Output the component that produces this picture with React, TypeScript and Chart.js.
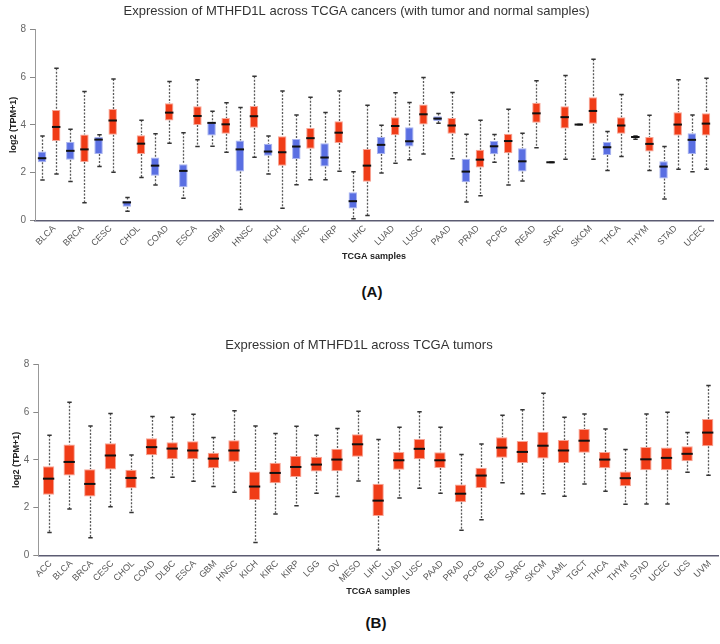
import React, { useEffect, useRef } from "react";
import { Chart, registerables } from "chart.js";

Chart.register(...registerables);

// ---------- DATA ----------
// each entry: [min, q1, median, q3, max] of log2(TPM+1)
const cancersA = [
  "BLCA", "BRCA", "CESC", "CHOL", "COAD", "ESCA", "GBM", "HNSC", "KICH", "KIRC", "KIRP", "LIHC",
  "LUAD", "LUSC", "PAAD", "PRAD", "PCPG", "READ", "SARC", "SKCM", "THCA", "THYM", "STAD", "UCEC",
];

const normalA = [
  [1.69, 2.43, 2.6, 2.88, 3.53],
  [1.62, 2.54, 2.91, 3.28, 3.81],
  [2.25, 2.78, 3.38, 3.49, 3.58],
  [0.38, 0.57, 0.75, 0.82, 0.96],
  [1.48, 1.87, 2.29, 2.63, 3.62],
  [0.92, 1.38, 2.07, 2.35, 3.67],
  [3.1, 3.55, 4.08, 4.1, 4.57],
  [0.45, 2.04, 2.97, 3.34, 4.72],
  [1.94, 2.7, 2.88, 3.21, 3.53],
  [1.49, 2.57, 3.09, 3.41, 4.41],
  [1.7, 2.25, 2.63, 3.23, 4.51],
  [0.06, 0.49, 0.8, 1.17, 2.03],
  [1.98, 2.78, 3.16, 3.49, 3.98],
  [2.54, 3.09, 3.31, 3.9, 4.93],
  [4.06, 4.16, 4.26, 4.36, 4.47],
  [0.77, 1.59, 2.04, 2.58, 3.6],
  [2.43, 2.77, 3.1, 3.32, 3.59],
  [1.65, 2.04, 2.47, 3.02, 3.65],
  [2.42, 2.42, 2.43, 2.44, 2.44],
  [4.0, 4.0, 4.01, 4.02, 4.02],
  [2.09, 2.74, 3.06, 3.28, 3.72],
  [3.39, 3.46, 3.49, 3.52, 3.53],
  [0.89, 1.75, 2.25, 2.47, 3.09],
  [2.03, 2.78, 3.37, 3.65, 4.41],
];

const tumorA = [
  [1.94, 3.32, 3.91, 4.62, 6.37],
  [0.73, 2.44, 2.97, 3.59, 5.4],
  [2.01, 3.58, 4.18, 4.66, 5.92],
  [1.79, 2.78, 3.21, 3.56, 4.19],
  [3.23, 4.18, 4.51, 4.9, 5.81],
  [3.09, 3.99, 4.37, 4.78, 5.89],
  [2.85, 3.62, 4.02, 4.29, 4.92],
  [2.64, 3.88, 4.36, 4.79, 6.03],
  [0.5, 2.29, 2.85, 3.52, 5.42],
  [1.7, 3.0, 3.44, 3.87, 5.15],
  [2.05, 3.24, 3.67, 4.15, 5.42],
  [0.2, 1.61, 2.29, 2.99, 4.82],
  [2.39, 3.56, 3.95, 4.32, 5.34],
  [2.78, 4.01, 4.44, 4.85, 5.98],
  [2.58, 3.63, 3.97, 4.29, 5.35],
  [1.03, 2.21, 2.54, 2.95, 4.19],
  [1.48, 2.81, 3.32, 3.63, 4.65],
  [3.04, 4.09, 4.48, 4.92, 5.85],
  [2.56, 3.85, 4.32, 4.78, 6.06],
  [2.56, 4.04, 4.58, 5.15, 6.75],
  [2.67, 3.62, 3.97, 4.32, 5.27],
  [2.09, 2.88, 3.2, 3.49, 4.4],
  [2.14, 3.55, 4.01, 4.53, 5.89],
  [2.14, 3.55, 4.05, 4.48, 5.95],
];

const cancersB = [
  "ACC", "BLCA", "BRCA", "CESC", "CHOL", "COAD", "DLBC", "ESCA", "GBM", "HNSC", "KICH", "KIRC",
  "KIRP", "LGG", "OV", "MESO", "LIHC", "LUAD", "LUSC", "PAAD", "PRAD", "PCPG", "READ", "SARC",
  "SKCM", "LAML", "TGCT", "THCA", "THYM", "STAD", "UCEC", "UCS", "UVM",
];

const tumorB = [
  [0.96, 2.54, 3.21, 3.73, 5.03],
  [1.94, 3.34, 3.91, 4.64, 6.41],
  [0.74, 2.46, 2.99, 3.6, 5.42],
  [2.03, 3.59, 4.18, 4.69, 5.94],
  [1.79, 2.81, 3.24, 3.58, 4.2],
  [3.25, 4.19, 4.53, 4.9, 5.81],
  [3.27, 4.02, 4.47, 4.73, 5.78],
  [3.1, 4.02, 4.39, 4.78, 5.91],
  [2.88, 3.65, 4.05, 4.3, 4.93],
  [2.64, 3.92, 4.39, 4.82, 6.05],
  [0.54, 2.32, 2.88, 3.51, 5.42],
  [1.73, 3.02, 3.45, 3.88, 5.1],
  [2.08, 3.28, 3.7, 4.16, 5.41],
  [2.6, 3.51, 3.8, 4.13, 5.03],
  [2.46, 3.52, 4.01, 4.46, 5.31],
  [3.11, 4.13, 4.65, 5.07, 6.03],
  [0.22, 1.65, 2.29, 3.0, 4.85],
  [2.4, 3.58, 3.98, 4.33, 5.36],
  [2.81, 4.02, 4.46, 4.87, 6.01],
  [2.6, 3.66, 3.98, 4.32, 5.36],
  [1.05, 2.22, 2.58, 2.97, 4.22],
  [1.49, 2.82, 3.34, 3.67, 4.66],
  [3.04, 4.09, 4.51, 4.94, 5.87],
  [2.58, 3.87, 4.33, 4.79, 6.1],
  [2.58, 4.05, 4.59, 5.17, 6.79],
  [2.47, 3.87, 4.39, 4.83, 5.78],
  [2.99, 4.3, 4.8, 5.29, 5.92],
  [2.68, 3.65, 4.01, 4.33, 5.29],
  [2.14, 2.89, 3.23, 3.51, 4.43],
  [2.15, 3.56, 4.02, 4.54, 5.92],
  [2.15, 3.56, 4.08, 4.51, 5.99],
  [3.48, 3.94, 4.25, 4.57, 5.14],
  [3.35, 4.57, 5.14, 5.71, 7.11],
];

const yTickValues = [0, 2, 4, 6, 8];

const titleA = "Expression of MTHFD1L across TCGA cancers (with tumor and normal samples)";
const titleB = "Expression of MTHFD1L across TCGA tumors";
const xTitle = "TCGA samples";
const yTitle = "log2 (TPM+1)";

// ---------- STYLE ----------
const RED = "#f03c17";
const RED_BORDER = "#f8a596";
const BLUE = "#5a6fe2";
const BLUE_BORDER = "#a9b4f0";
const FONT = "Arial, 'Liberation Sans', sans-serif";

Chart.defaults.font.family = FONT;

const boxPlugin = {
  id: "boxWhisker",
  beforeDatasetsDraw(chart: any) {
    const ctx = chart.ctx;
    const y = chart.scales.y;
    chart.data.datasets.forEach((ds: any, i: number) => {
      const meta = chart.getDatasetMeta(i);
      meta.data.forEach((bar: any, j: number) => {
        const s = ds.stats[j];
        const x = Math.round(bar.x) + 0.5;
        const yMin = y.getPixelForValue(s[0]);
        const yQ1 = y.getPixelForValue(s[1]);
        const yQ3 = y.getPixelForValue(s[3]);
        const yMax = y.getPixelForValue(s[4]);
        ctx.save();
        ctx.strokeStyle = "#5a5a5a";
        ctx.lineWidth = 1.3;
        ctx.setLineDash([2, 1.5]);
        ctx.beginPath();
        ctx.moveTo(x, yMax);
        ctx.lineTo(x, yQ3);
        ctx.moveTo(x, yQ1);
        ctx.lineTo(x, yMin);
        ctx.stroke();
        ctx.setLineDash([]);
        ctx.strokeStyle = "#333";
        ctx.lineWidth = 1.5;
        ctx.beginPath();
        ctx.moveTo(x - 2.2, yMax);
        ctx.lineTo(x + 2.2, yMax);
        ctx.moveTo(x - 2.2, yMin);
        ctx.lineTo(x + 2.2, yMin);
        ctx.stroke();
        ctx.restore();
      });
    });
  },
  afterDatasetsDraw(chart: any) {
    const ctx = chart.ctx;
    const y = chart.scales.y;
    chart.data.datasets.forEach((ds: any, i: number) => {
      const meta = chart.getDatasetMeta(i);
      meta.data.forEach((bar: any, j: number) => {
        const s = ds.stats[j];
        const yMed = y.getPixelForValue(s[2]);
        const half = bar.width / 2;
        ctx.save();
        ctx.strokeStyle = "#111";
        ctx.lineWidth = 2;
        ctx.beginPath();
        ctx.moveTo(bar.x - half, yMed);
        ctx.lineTo(bar.x + half, yMed);
        ctx.stroke();
        ctx.restore();
      });
    });
  },
};

interface SeriesDef {
  stats: number[][];
  color: string;
  border: string;
}

interface PanelProps {
  title: string;
  labels: string[];
  series: SeriesDef[];
  width: number;
  height: number;
  axisLeft: number;
  padRight: number;
  titlePadTop: number;
  titlePadBottom: number;
  xAxisHeight: number;
  xTitlePadBottom: number;
  yTitlePadTop: number;
  catPct: number;
  barPct: number;
  labelOffset: number;
}

function BoxPanel(p: PanelProps) {
  const ref = useRef<HTMLCanvasElement | null>(null);
  useEffect(() => {
    if (!ref.current) return;
    const chart = new Chart(ref.current, {
      type: "bar",
      data: {
        labels: p.labels,
        datasets: p.series.map((s) => ({
          data: s.stats.map((d) => [d[1], d[3]]),
          stats: s.stats,
          backgroundColor: s.color,
          borderColor: s.border,
          borderWidth: 1,
          borderSkipped: false,
          categoryPercentage: p.catPct,
          barPercentage: p.barPct,
        })) as any,
      },
      options: {
        responsive: false,
        animation: false,
        layout: { padding: { left: 0, right: p.padRight, top: 0, bottom: 0 } },
        plugins: {
          legend: { display: false },
          tooltip: { enabled: false },
          title: {
            display: true,
            text: p.title,
            color: "#333",
            font: { size: 13, weight: "normal", family: FONT },
            padding: { top: p.titlePadTop, bottom: p.titlePadBottom },
          },
        },
        scales: {
          x: {
            type: "category",
            offset: true,
            grid: { display: false, drawTicks: false },
            border: { display: true, color: "#5c5c72", width: 1.5 },
            ticks: {
              autoSkip: false,
              maxRotation: 45,
              minRotation: 45,
              padding: 3,
              labelOffset: p.labelOffset,
              color: "#555",
              font: { size: 9, family: FONT },
            },
            title: {
              display: true,
              text: xTitle,
              color: "#222",
              font: { size: 9, weight: "bold", family: FONT },
              padding: { top: 0, bottom: p.xTitlePadBottom },
            },
            afterFit: (s: any) => {
              s.height = p.xAxisHeight;
            },
          },
          y: {
            type: "linear",
            min: 0,
            max: 8,
            afterBuildTicks: (s: any) => {
              s.ticks = yTickValues.map((v) => ({ value: v }));
            },
            grid: {
              display: true,
              drawOnChartArea: false,
              drawTicks: true,
              tickLength: 5,
              color: "#888",
            },
            border: { display: true, color: "#999", width: 1 },
            ticks: {
              padding: 4,
              color: "#666",
              font: { size: 10, family: FONT },
            },
            title: {
              display: true,
              text: yTitle,
              color: "#222",
              font: { size: 9, weight: "bold", family: FONT },
              padding: { top: p.yTitlePadTop, bottom: 0 },
            },
            afterFit: (s: any) => {
              s.width = p.axisLeft;
            },
          },
        },
      } as any,
      plugins: [boxPlugin as any],
    });
    return () => chart.destroy();
  }, []);
  return <canvas ref={ref} width={p.width} height={p.height} style={{ display: "block" }} />;
}

const panelLabelStyle: React.CSSProperties = {
  position: "absolute",
  fontFamily: FONT,
  fontWeight: "bold",
  fontSize: 15,
  color: "#111",
  transform: "translate(-50%, -50%)",
  whiteSpace: "nowrap",
};

export default function App() {
  return (
    <div
      style={{
        position: "absolute",
        left: 0,
        top: 0,
        width: 720,
        height: 644,
        background: "#fff",
        overflow: "hidden",
      }}
    >
      <div style={{ position: "absolute", left: 0, top: 0 }}>
        <BoxPanel
          title={titleA}
          labels={cancersA}
          series={[
            { stats: normalA, color: BLUE, border: BLUE_BORDER },
            { stats: tumorA, color: RED, border: RED_BORDER },
          ]}
          width={720}
          height={265}
          axisLeft={35}
          padRight={7}
          titlePadTop={4}
          titlePadBottom={9.7}
          xAxisHeight={44.7}
          xTitlePadBottom={2.6}
          yTitlePadTop={7.9}
          catPct={1.0}
          barPct={0.6}
          labelOffset={5}
        />
      </div>
      <div style={{ ...panelLabelStyle, left: 372, top: 291 }}>(A)</div>
      <div style={{ position: "absolute", left: 0, top: 330 }}>
        <BoxPanel
          title={titleB}
          labels={cancersB}
          series={[{ stats: tumorB, color: RED, border: RED_BORDER }]}
          width={720}
          height={275}
          axisLeft={38.3}
          padRight={2}
          titlePadTop={7.9}
          titlePadBottom={10.8}
          xAxisHeight={49.7}
          xTitlePadBottom={7.6}
          yTitlePadTop={11.3}
          catPct={0.55}
          barPct={1.0}
          labelOffset={2}
        />
      </div>
      <div style={{ ...panelLabelStyle, left: 376, top: 622 }}>(B)</div>
    </div>
  );
}
